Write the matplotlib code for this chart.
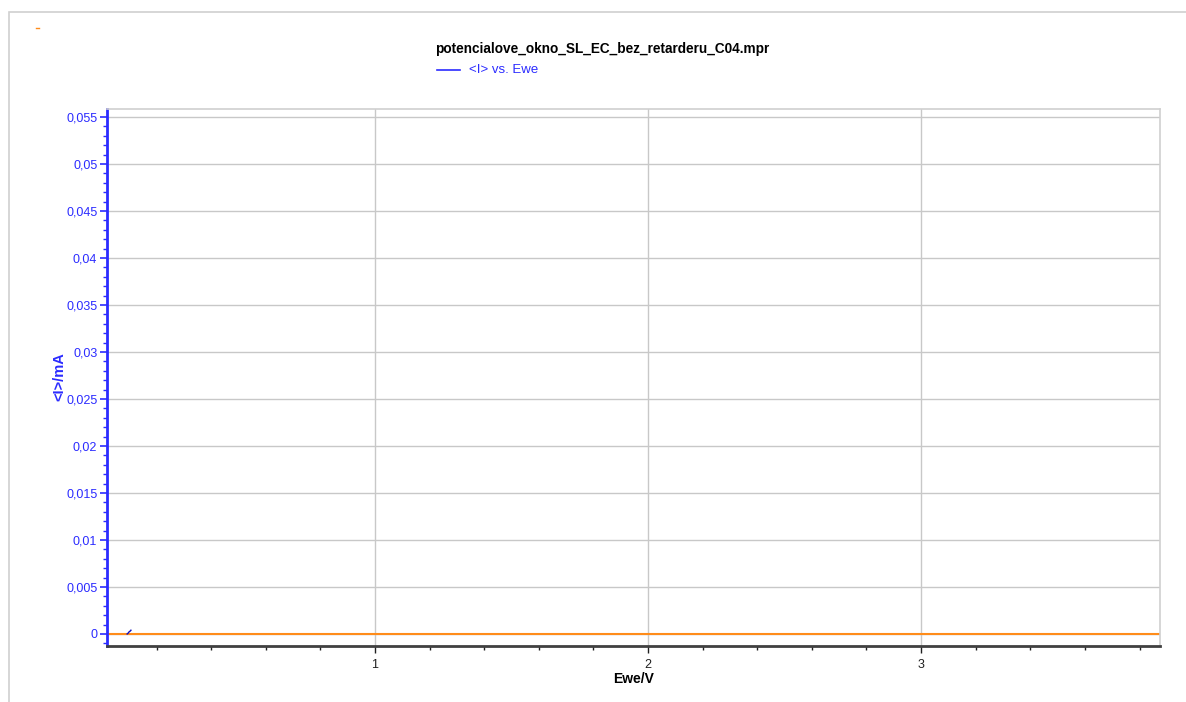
import matplotlib
matplotlib.use("Agg")
from matplotlib import pyplot as plt
from matplotlib import ticker
from matplotlib.patches import Rectangle
from matplotlib.lines import Line2D

plt.rcParams['font.family'] = ['Liberation Sans', 'DejaVu Sans']

# data
title = "potencialove_okno_SL_EC_bez_retarderu_C04.mpr"
ewe = [0.092, 0.096, 0.100, 0.103, 0.106]          # Ewe/V
current = [0.0, 0.0001, 0.00025, 0.0003, 0.0004]  # <I>/mA
baseline = 0.0
x_limits = (0.0183, 3.875)
y_limits = (-0.00128, 0.05585)
y_major = 0.005
x_major = 1.0

blue = '#2b2bff'
orange = '#ff8c1a'
W, H = 1186, 702

fig = plt.figure(figsize=(W / 100, H / 100), dpi=100)
ax = fig.add_axes([107 / W, 1 - 646 / H, (1160 - 107) / W, (646 - 109) / H])

# outer light frame of the plot window
fig.patches.append(Rectangle((8.5 / W, -0.1), 1.2, 1 - 12 / H + 0.1, transform=fig.transFigure,
                             fill=False, edgecolor='#d0d0d0', linewidth=1.2))
# tiny orange dash in the top-left corner
fig.lines.append(Line2D([36 / W, 39 / W], [1 - 28 / H, 1 - 28 / H], transform=fig.transFigure,
                        color=orange, linewidth=1))

ax.axhline(baseline, color=orange, linewidth=1.5, zorder=2)
ax.plot(ewe, current, color='#1010c0', linewidth=1, zorder=3)

ax.set_xlim(*x_limits)
ax.set_ylim(*y_limits)

ax.xaxis.set_major_locator(ticker.MultipleLocator(x_major))
ax.xaxis.set_minor_locator(ticker.MultipleLocator(0.2))
ax.yaxis.set_major_locator(ticker.MultipleLocator(y_major))
ax.yaxis.set_minor_locator(ticker.MultipleLocator(0.001))

def comma_fmt(v, pos):
    s = f"{v:.3f}".rstrip('0').rstrip('.')
    if s in ('-0', ''):
        s = '0'
    return s.replace('.', ',')

ax.yaxis.set_major_formatter(ticker.FuncFormatter(comma_fmt))
ax.xaxis.set_major_formatter(ticker.FuncFormatter(lambda v, p: f"{v:g}"))

ax.grid(True, which='major', color='#c8c8c8', linewidth=1)
ax.set_axisbelow(True)

for side in ('top', 'right'):
    ax.spines[side].set_color('#d0d0d0')
    ax.spines[side].set_linewidth(1.2)
ax.spines['left'].set_color(blue)
ax.spines['left'].set_linewidth(2)
ax.spines['bottom'].set_color('#404040')
ax.spines['bottom'].set_linewidth(2)

ax.tick_params(axis='y', which='major', colors=blue, labelcolor=blue, length=5, width=1.2, labelsize=9, pad=2)
ax.tick_params(axis='y', which='minor', colors=blue, length=3, width=1)
ax.tick_params(axis='x', which='major', colors='#202020', length=5, width=1, labelsize=9, pad=4)
ax.tick_params(axis='x', which='minor', colors='#202020', length=3, width=1)

ax.set_xlabel("Ewe/V", fontsize=10, fontweight='bold', labelpad=1)
ax.set_ylabel("<I>/mA", fontsize=10.5, fontweight='bold', color=blue, labelpad=0)
ax.yaxis.set_label_coords(-41 / (1160 - 107), (646 - 377) / (646 - 109))

fig.text(602 / W, 1 - 49 / H, title, ha='center', va='center', fontsize=9.8, fontweight='bold')
fig.lines.append(Line2D([437 / W, 460 / W], [1 - 70 / H, 1 - 70 / H], transform=fig.transFigure,
                        color=blue, linewidth=1.2))
fig.text(469 / W, 1 - 70 / H, "<I> vs. Ewe", ha='left', va='center', fontsize=9.5, color=blue)

fig.savefig("out.png", dpi=100)
